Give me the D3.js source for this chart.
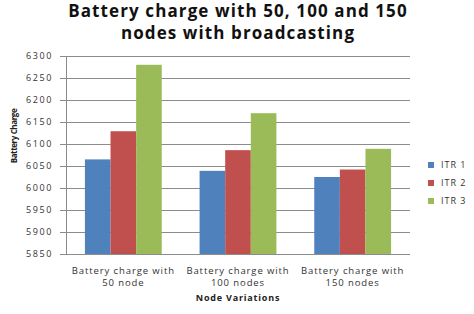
<!DOCTYPE html>
<html>
<head>
<meta charset="utf-8">
<script src="https://cdn.jsdelivr.net/npm/d3@7"></script>
<style>
  body { margin: 0; background: #fff; }
  text { font-family: "Open Sans", "DejaVu Sans", sans-serif; }
</style>
</head>
<body>
<div id="chart"></div>
<script>
'use strict';

// Data
const categories = [
    ['Battery charge with', '50 node'],
    ['Battery charge with', '100 nodes'],
    ['Battery charge with', '150 nodes']
];
const seriesNames = ['ITR 1', 'ITR 2', 'ITR 3'];
const itr1 = [6065, 6039, 6025];
const itr2 = [6129, 6086, 6042];
const itr3 = [6280, 6170, 6089];
const yTicks = [5850, 5900, 5950, 6000, 6050, 6100, 6150, 6200, 6250, 6300];

const colors = ['#4F81BD', '#C0504D', '#9BBB59'];
const series = [itr1, itr2, itr3];

// Layout
const W = 474, H = 314;
const plot = {left: 66, right: 410, top: 56, bottom: 254};

const svg = d3.select('#chart').append('svg')
    .attr('width', W)
    .attr('height', H);

// Scales
const x0 = d3.scaleBand()
    .domain(d3.range(categories.length))
    .range([plot.left, plot.right])
    .paddingInner(0.33)
    .paddingOuter(0.165);
const x1 = d3.scaleBand()
    .domain(d3.range(seriesNames.length))
    .range([0, x0.bandwidth()]);
const y = d3.scaleLinear()
    .domain([5850, 6300])
    .range([plot.bottom, plot.top]);

// Gridlines
svg.append('g')
    .selectAll('line')
    .data(yTicks.slice(1))
    .join('line')
    .attr('x1', plot.left)
    .attr('x2', plot.right)
    .attr('y1', d => y(d))
    .attr('y2', d => y(d))
    .attr('stroke', '#8c8c8c')
    .attr('stroke-width', 1)
    .attr('shape-rendering', 'crispEdges');

// Bars
const groups = svg.append('g')
    .selectAll('g')
    .data(categories.map((c, i) => i))
    .join('g')
    .attr('transform', i => `translate(${x0(i)},0)`);

groups.selectAll('rect')
    .data(i => series.map((s, k) => ({k: k, v: s[i]})))
    .join('rect')
    .attr('x', d => x1(d.k))
    .attr('width', x1.bandwidth())
    .attr('y', d => y(d.v))
    .attr('height', d => y(5850) - y(d.v))
    .attr('fill', d => colors[d.k]);

// Y axis
const yAxis = svg.append('g')
    .attr('transform', `translate(${plot.left},0)`)
    .call(d3.axisLeft(y).tickValues(yTicks).tickSize(6).tickPadding(7).tickFormat(d3.format('d')));
yAxis.select('.domain').attr('stroke', '#8c8c8c');
yAxis.selectAll('.tick line').attr('stroke', '#8c8c8c');
yAxis.selectAll('.tick text')
    .attr('fill', '#333')
    .style('font-size', '9px')
    .style('letter-spacing', '1.6px');

// X axis line
svg.append('line')
    .attr('x1', plot.left)
    .attr('x2', plot.right)
    .attr('y1', plot.bottom)
    .attr('y2', plot.bottom)
    .attr('stroke', '#8c8c8c')
    .attr('shape-rendering', 'crispEdges');

// X labels
svg.append('g')
    .selectAll('text')
    .data(categories)
    .join('text')
    .attr('x', (d, i) => x0(i) + x0.bandwidth() / 2)
    .attr('y', 274)
    .attr('text-anchor', 'middle')
    .attr('fill', '#333')
    .style('font-size', '9.5px')
    .style('letter-spacing', '0.9px')
    .each(function(d) {
        const t = d3.select(this);
        d.forEach((line, j) => {
            t.append('tspan')
                .attr('x', t.attr('x'))
                .attr('dy', j === 0 ? 0 : 12)
                .text(line);
        });
    });

// Axis titles
svg.append('text')
    .attr('x', (plot.left + plot.right) / 2)
    .attr('y', 301)
    .attr('text-anchor', 'middle')
    .attr('font-weight', 'bold')
    .attr('fill', '#222')
    .style('font-size', '9px')
    .style('letter-spacing', '0.8px')
    .text('Node Variations');

svg.append('text')
    .attr('transform', 'translate(17,136) rotate(-90)')
    .attr('text-anchor', 'middle')
    .attr('font-weight', 'bold')
    .attr('fill', '#222')
    .style('font-size', '8px')
    .style('letter-spacing', '-0.4px')
    .text('Battery Charge');

// Title
const title = svg.append('text')
    .attr('text-anchor', 'middle')
    .attr('font-weight', 'bold')
    .attr('fill', '#111')
    .style('font-size', '17px')
    .style('letter-spacing', '1.1px');
['Battery charge with 50, 100 and 150', 'nodes with broadcasting'].forEach((line, j) => {
    title.append('tspan')
        .attr('x', 238)
        .attr('y', 17 + j * 22)
        .text(line);
});

// Legend
const legend = svg.append('g')
    .selectAll('g')
    .data(seriesNames)
    .join('g')
    .attr('transform', (d, i) => `translate(428,${165 + i * 18})`);
legend.append('rect')
    .attr('x', 0)
    .attr('y', -3)
    .attr('width', 6)
    .attr('height', 6)
    .attr('fill', (d, i) => colors[i]);
legend.append('text')
    .attr('x', 13)
    .attr('y', 3)
    .attr('fill', '#333')
    .style('font-size', '9px')
    .style('letter-spacing', '1px')
    .text(d => d);
</script>
</body>
</html>
